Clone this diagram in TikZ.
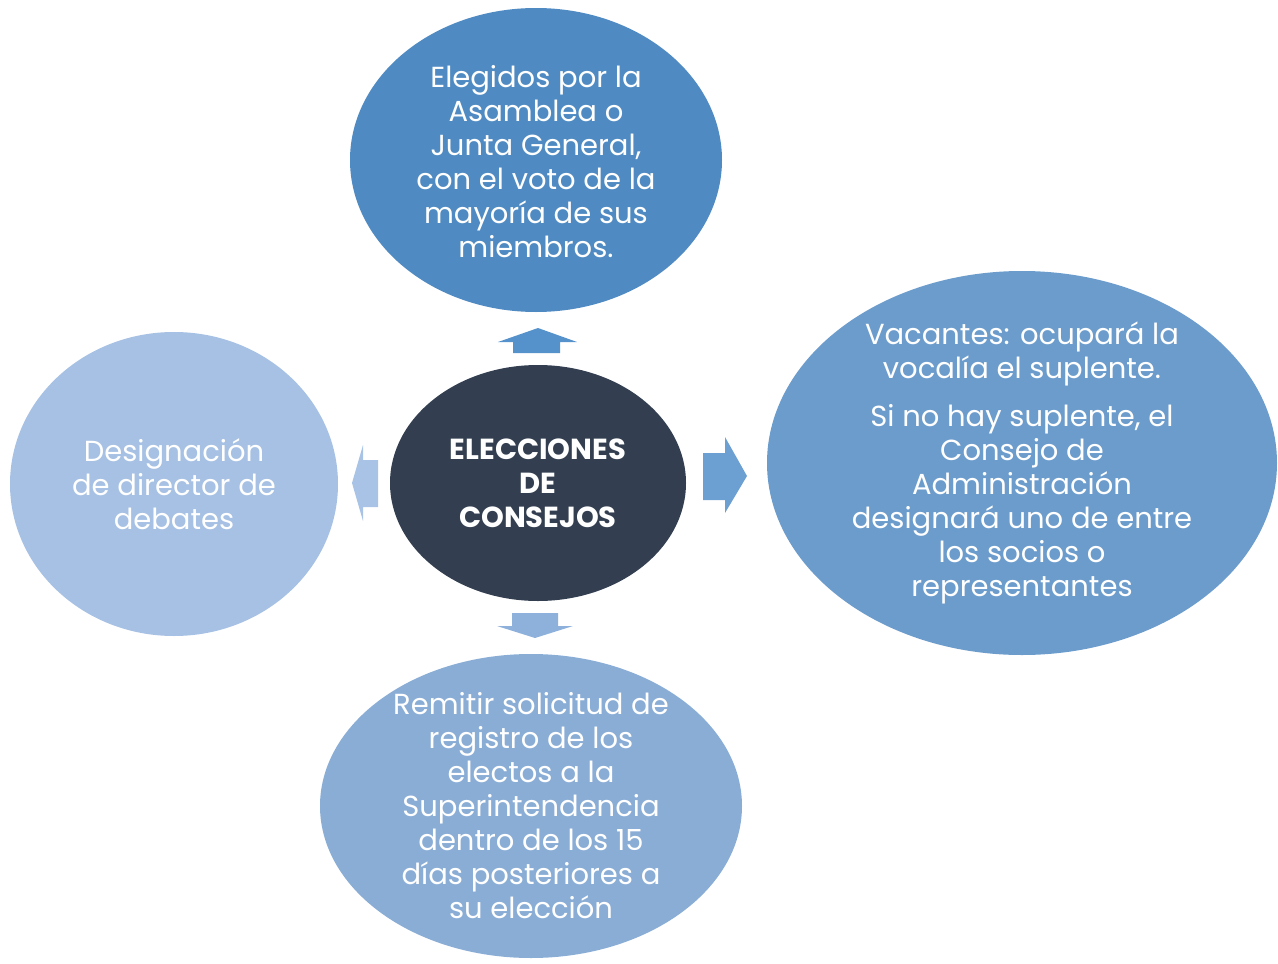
\documentclass[tikz,border=0pt]{standalone}
\usepackage{fontspec}
\setmainfont{Poppins}
\definecolor{cTop}{HTML}{4F8BC2}
\definecolor{cMid}{HTML}{333F50}
\definecolor{cRight}{HTML}{6C9CCC}
\definecolor{cBottom}{HTML}{8AADD6}
\definecolor{cLeft}{HTML}{A6C1E3}
\definecolor{aTop}{HTML}{5592CB}
\definecolor{aRight}{HTML}{6C9FD2}
\definecolor{aBottom}{HTML}{8EB1DB}
\definecolor{aLeft}{HTML}{A8C3E5}
\tikzset{
	bubble/.style={inner sep=0pt, text=white, align=center,
		font=\fontsize{29}{34}\selectfont},
}
\begin{document}
\begin{tikzpicture}[x=1pt, y=-1pt, line join=round]
	\useasboundingbox (0,0) rectangle (1278,964);
	\fill[cTop] (536,160) ellipse [x radius=186, y radius=152];
	\fill[cMid] (538,483) ellipse [x radius=148, y radius=118];
	\fill[cRight] (1022,463) ellipse [x radius=255, y radius=192];
	\fill[cLeft] (174,484) ellipse [x radius=164, y radius=152];
	\fill[cBottom] (531,806) ellipse [x radius=211, y radius=152];
	\node[bubble] (top) at (536,162)
		{Elegidos por la\\Asamblea o\\Junta General,\\con el voto de la\\mayoría de sus\\miembros.};
	\node[bubble, font=\bfseries\fontsize{29}{34}\selectfont] (mid) at (538,483)
		{ELECCIONES\\DE\\CONSEJOS};
	\node[bubble] (right) at (1022,463)
		{Vacantes: ocupará la\\vocalía el suplente.\\[14pt]Si no hay suplente, el\\Consejo de\\Administración\\designará uno de entre\\los socios o\\representantes};
	\node[bubble] (left) at (174,484)
		{Designación\\de director de\\debates};
	\node[bubble] (bottom) at (531,806)
		{Remitir solicitud de\\registro de los\\electos a la\\Superintendencia\\dentro de los 15\\días posteriores a\\su elección};
	% flechas
	\fill[aTop] (513,353) -- (513,342) -- (498,342) -- (538,328) -- (577,342) -- (560,342) -- (560,353) -- cycle;
	\fill[aRight] (703,453) -- (725,453) -- (725,437) -- (747,476) -- (725,513) -- (725,500) -- (703,500) -- cycle;
	\fill[aLeft] (378,460) -- (363,460) -- (363,445) -- (352,483) -- (363,521) -- (363,507) -- (378,507) -- cycle;
	\fill[aBottom] (512,613) -- (558,613) -- (558,626) -- (573,626) -- (535,638) -- (497,626) -- (512,626) -- cycle;
\end{tikzpicture}
\end{document}
